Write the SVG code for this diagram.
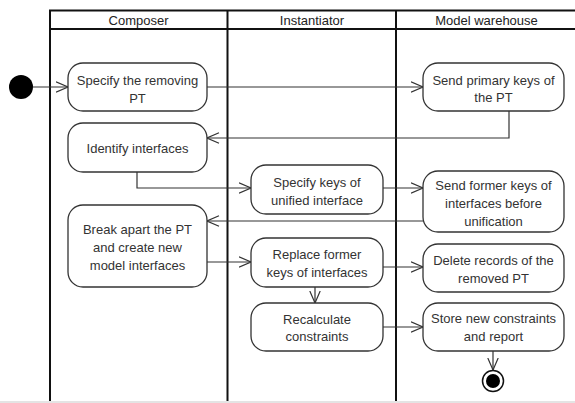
<svg xmlns="http://www.w3.org/2000/svg" width="575" height="403" viewBox="0 0 575 403">
<defs>
<style>
.lane{stroke:#111;stroke-width:2;fill:none}
.hdr{font-family:"Liberation Sans",Arial,sans-serif;font-size:13px;fill:#222;text-anchor:middle}
.node rect{fill:#fff;stroke:#333;stroke-width:1.3}
.node text{font-family:"Liberation Sans",Arial,sans-serif;font-size:13px;fill:#333;text-anchor:middle}
.conn path{fill:none;stroke:#333;stroke-width:1.2;marker-end:url(#arr)}
</style>
<marker id="arr" viewBox="0 0 13 12" refX="12.5" refY="6" markerWidth="13" markerHeight="12" markerUnits="userSpaceOnUse" orient="auto">
<path d="M0.5,0.8 L12.5,6 L0.5,11.2" fill="none" stroke="#333" stroke-width="1.2"/>
</marker>
</defs>
<rect width="575" height="403" fill="#fff"/>
<g id="swimlanes">
<path class="lane" d="M575,10.5 H50 V403 M50,29 H575 M227.5,10.5 V403 M396,10.5 V403"/>
<rect x="0" y="401" width="575" height="2" fill="#e4e4e4"/>
<text class="hdr" x="138.5" y="25">Composer</text>
<text class="hdr" x="312" y="25">Instantiator</text>
<text class="hdr" x="486.5" y="25">Model warehouse</text>
</g>
<g id="connectors" class="conn">
<path d="M33,87 H68"/>
<path d="M207,87 H423"/>
<path d="M509,111 V138 H207"/>
<path d="M137,172 V188 H251"/>
<path d="M383,188 H423"/>
<path d="M423,221 H207"/>
<path d="M207,262 H251"/>
<path d="M383,267 H423"/>
<path d="M315,287 V303"/>
<path d="M383,327 H423"/>
<path d="M493,351 V370"/>
</g>
<g id="start"><circle cx="21" cy="87" r="12" fill="#000"/></g>
<g id="specify-removing" class="node"><rect x="68" y="63" width="139" height="48" rx="15"/><text x="137.5" y="84.5">Specify the removing</text><text x="137.5" y="102.5">PT</text></g>
<g id="identify-interfaces" class="node"><rect x="68" y="123" width="139" height="49" rx="15"/><text x="137.5" y="152.5">Identify interfaces</text></g>
<g id="break-apart" class="node"><rect x="68" y="205" width="139" height="82" rx="15"/><text x="137.5" y="233.5">Break apart the PT</text><text x="137.5" y="251.5">and create new</text><text x="137.5" y="269.5">model interfaces</text></g>
<g id="specify-keys" class="node"><rect x="251" y="165" width="132" height="49" rx="15"/><text x="317" y="186.5">Specify keys of</text><text x="317" y="204.5">unified interface</text></g>
<g id="replace-keys" class="node"><rect x="251" y="238" width="132" height="49" rx="15"/><text x="317" y="258.5">Replace former</text><text x="317" y="276.5">keys of interfaces</text></g>
<g id="recalculate" class="node"><rect x="251" y="303" width="132" height="48" rx="15"/><text x="317" y="323.5">Recalculate</text><text x="317" y="340.5">constraints</text></g>
<g id="send-primary" class="node"><rect x="423" y="63" width="141" height="48" rx="15"/><text x="493.5" y="84.5">Send primary keys of</text><text x="493.5" y="101.5">the PT</text></g>
<g id="send-former" class="node"><rect x="423" y="171" width="141" height="61" rx="15"/><text x="493.5" y="189.5">Send former keys of</text><text x="493.5" y="207.5">interfaces before</text><text x="493.5" y="225.5">unification</text></g>
<g id="delete-records" class="node"><rect x="423" y="244" width="141" height="48" rx="15"/><text x="493.5" y="264.5">Delete records of the</text><text x="493.5" y="282.5">removed PT</text></g>
<g id="store" class="node"><rect x="423" y="303" width="141" height="48" rx="15"/><text x="493.5" y="322.5">Store new constraints</text><text x="493.5" y="340.5">and report</text></g>
<g id="end"><circle cx="493" cy="381" r="10.5" fill="#fff" stroke="#111" stroke-width="1.5"/><circle cx="493" cy="381" r="7" fill="#000"/></g>
</svg>
